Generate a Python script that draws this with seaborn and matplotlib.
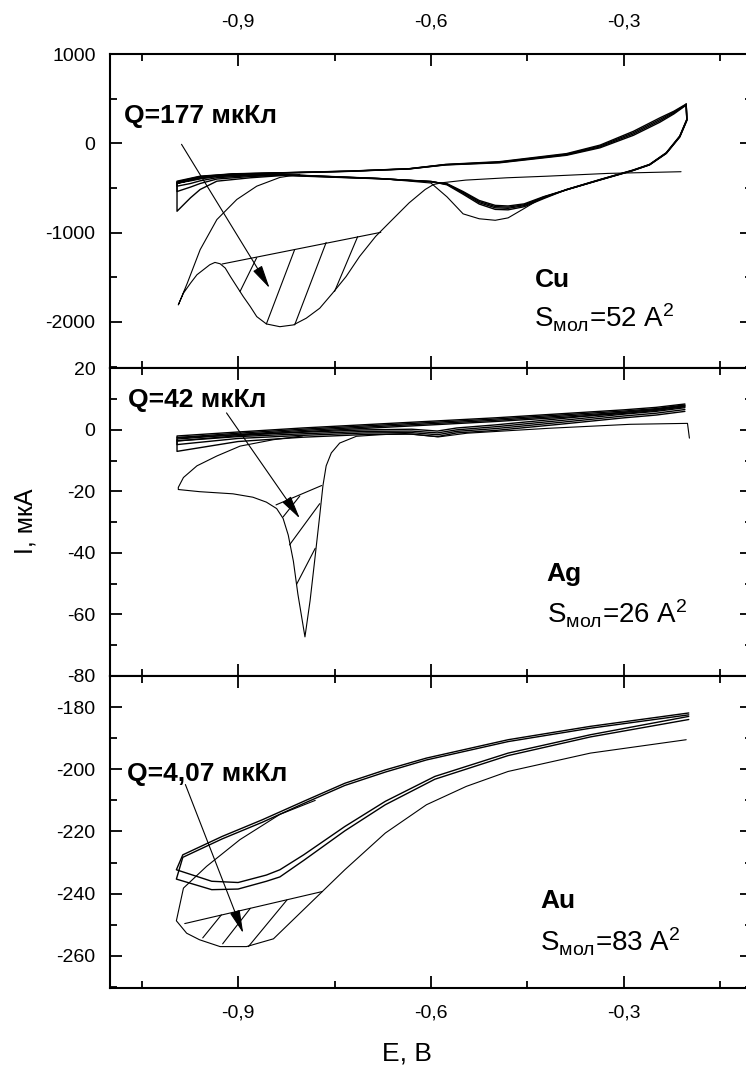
import matplotlib
matplotlib.use('Agg')
import matplotlib.pyplot as plt
import seaborn as sns

# ---------------- data ----------------
# x axis
x_major = [-0.9, -0.6, -0.3]
x_minor = [-1.05, -0.75, -0.45, -0.15]
x_labels = ['-0,9', '-0,6', '-0,3']

# Cu panel: stabilised cycles, anodic (up) and cathodic (down) branches
cu_E_up = [-0.995, -0.959, -0.907, -0.830, -0.727, -0.634, -0.577, -0.493, -0.389, -0.337, -0.285, -0.244, -0.222, -0.203]
cu_I_up = [
    [-424, -368, -341, -329, -311, -284, -236, -205, -115, -20, 135, 285, 360, 440],
    [-432, -372, -343, -330, -312, -285, -238, -210, -122, -30, 120, 268, 350, 436],
    [-440, -376, -345, -331, -313, -286, -240, -214, -128, -40, 105, 252, 340, 432],
    [-452, -382, -348, -333, -314, -287, -242, -218, -134, -50, 90, 236, 330, 428],
]
cu_E_dn = [-0.203, -0.202, -0.213, -0.234, -0.260, -0.286, -0.337, -0.389, -0.425, -0.455, -0.480, -0.500,
           -0.525, -0.550, -0.575, -0.600, -0.680, -0.727, -0.830, -0.881, -0.933, -0.959, -0.974, -0.995]
cu_I_dn = [
    [440, 270, 82, -105, -236, -300, -405, -517, -620, -710, -745, -740, -680, -570, -465, -426, -397, -386, -360, -386, -424, -517, -610, -761],
    [436, 265, 78, -108, -238, -302, -407, -518, -612, -698, -728, -722, -665, -558, -460, -428, -396, -384, -356, -372, -400, -450, -490, -540],
    [432, 260, 74, -111, -240, -304, -409, -519, -605, -688, -715, -708, -652, -548, -456, -430, -395, -382, -352, -362, -385, -420, -450, -480],
    [428, 255, 70, -114, -242, -306, -411, -520, -598, -678, -702, -695, -640, -540, -452, -432, -394, -380, -350, -355, -372, -398, -420, -445],
    [430, 262, 76, -110, -240, -304, -409, -522, -600, -730, -835, -862, -845, -790, -600, -445, -394, -380, -350, -352, -370, -395, -415, -440],
]
# Cu first scan (thin): flat part, reduction valley, return
cu_E_first = [-0.211, -0.325, -0.419, -0.482, -0.546, -0.583, -0.596, -0.609, -0.634, -0.660, -0.686, -0.711,
              -0.732, -0.753, -0.773, -0.794, -0.814, -0.835, -0.856, -0.871, -0.881, -0.892, -0.902, -0.912,
              -0.920, -0.928, -0.936, -0.944, -0.954, -0.964, -0.974, -0.985, -0.993, -0.979, -0.959, -0.933,
              -0.902, -0.871, -0.835, -0.804]
cu_I_first = [-318, -337, -368, -386, -412, -442, -461, -517, -667, -854, -1042, -1267,
              -1492, -1678, -1847, -1959, -2034, -2054, -2023, -1941, -1829, -1716, -1604, -1492,
              -1397, -1349, -1334, -1360, -1416, -1472, -1566, -1678, -1810, -1566, -1191, -854,
              -629, -480, -382, -348]
cu_base_E = [-0.925, -0.678]
cu_base_I = [-1352, -997]
cu_hatch_E = [[-0.897, -0.871], [-0.856, -0.812], [-0.812, -0.763], [-0.750, -0.714]]
cu_hatch_I = [[-1660, -1280], [-2023, -1190], [-2034, -1110], [-1660, -1045]]
cu_arrow = [(-0.988, -11), (-0.851, -1622)]

# Ag panel
ag_E_up = [-0.995, -0.90, -0.80, -0.70, -0.60, -0.50, -0.40, -0.30, -0.25, -0.205]
ag_I_up = [
    [-2.0, -0.7, 0.6, 1.7, 2.8, 3.9, 5.2, 6.5, 7.3, 8.4],
    [-2.5, -1.1, 0.2, 1.3, 2.4, 3.5, 4.8, 6.1, 6.9, 8.1],
    [-3.0, -1.5, -0.2, 0.9, 2.0, 3.1, 4.4, 5.7, 6.6, 7.8],
    [-3.6, -1.9, -0.6, 0.5, 1.6, 2.7, 4.0, 5.3, 6.3, 7.5],
]
ag_E_dn = [-0.205, -0.25, -0.30, -0.40, -0.50, -0.56, -0.59, -0.63, -0.70, -0.80, -0.90, -0.995]
ag_I_dn = [
    [7.8, 6.6, 5.7, 3.6, 1.6, 0.6, -0.4, 0.2, 0.0, -0.8, -1.6, -2.6],
    [7.2, 6.0, 5.1, 3.0, 1.0, 0.0, -1.0, -0.4, -0.5, -1.3, -2.2, -3.6],
    [6.6, 5.4, 4.5, 2.4, 0.4, -0.5, -1.6, -0.9, -1.0, -1.8, -2.8, -4.8],
    [6.0, 4.8, 3.9, 1.8, -0.2, -1.0, -2.2, -1.4, -1.5, -2.4, -3.8, -7.0],
]
ag_E_first = [-0.198, -0.201, -0.290, -0.417, -0.544, -0.588, -0.640, -0.680, -0.716, -0.742, -0.755, -0.763,
              -0.768, -0.773, -0.781, -0.788, -0.796, -0.807, -0.814, -0.822, -0.830, -0.840, -0.856, -0.877,
              -0.908, -0.960, -0.993, -0.993, -0.985, -0.964, -0.933, -0.897, -0.845, -0.800]
ag_I_first = [-2.7, 2.1, 1.8, 0.5, -1.1, -2.3, -1.2, -1.6, -2.1, -4.3, -7.5, -11.7,
              -18.1, -27.8, -42.7, -55.5, -67.3, -53.4, -42.7, -34.2, -28.8, -25.6, -23.5, -21.9,
              -20.8, -20.1, -19.4, -18.7, -15.5, -11.7, -8.5, -5.3, -3.2, -2.0]
ag_base_E = [-0.841, -0.770]
ag_base_I = [-24.4, -18.1]
ag_hatch_E = [[-0.830, -0.804], [-0.820, -0.773], [-0.809, -0.780]]
ag_hatch_I = [[-28.3, -21.5], [-37.4, -24.0], [-50.2, -38.5]]
ag_arrow = [(-0.918, 5.5), (-0.804, -28.8)]

# Au panel
au_E_up = [-0.986, -0.925, -0.862, -0.798, -0.734, -0.671, -0.607, -0.480, -0.352, -0.199]
au_I_up = [
    [-227.5, -221.6, -216.2, -210.3, -204.5, -200.2, -196.4, -190.5, -186.2, -181.9],
    [-228.3, -222.4, -217.0, -211.0, -205.2, -200.9, -197.0, -191.1, -186.8, -182.5],
]
au_E_dn = [-0.199, -0.352, -0.480, -0.594, -0.671, -0.734, -0.798, -0.835, -0.856, -0.900, -0.941, -0.996]
au_I_dn = [
    [-183.0, -188.9, -194.8, -202.3, -210.3, -218.4, -227.5, -232.3, -234.0, -236.4, -236.0, -232.3],
    [-184.0, -189.6, -195.6, -203.2, -211.4, -219.8, -229.3, -234.6, -236.0, -238.5, -238.7, -235.3],
]
au_E_first = [-0.203, -0.352, -0.480, -0.545, -0.607, -0.671, -0.734, -0.769, -0.810, -0.845,
              -0.887, -0.928, -0.960, -0.980, -0.996, -0.985, -0.949, -0.897, -0.835, -0.780]
au_I_first = [-190.5, -194.8, -200.7, -205.5, -211.4, -220.5, -232.3, -239.3, -247.5, -254.5,
              -257.0, -257.0, -254.8, -252.7, -248.7, -238.2, -231.2, -222.6, -214.5, -210.0]
au_base_E = [-0.983, -0.769]
au_base_I = [-249.6, -239.3]
au_hatch_E = [[-0.955, -0.926], [-0.924, -0.881], [-0.884, -0.824]]
au_hatch_I = [[-254.2, -246.8], [-256.1, -244.7], [-257.0, -242.0]]
au_arrow = [(-0.982, -204.9), (-0.892, -252.7)]

# ---------------- style ----------------
sns.set_theme(style='ticks')
plt.rcParams['font.family'] = ['Liberation Sans', 'DejaVu Sans']
plt.rcParams['text.color'] = 'black'
plt.rcParams['axes.labelcolor'] = 'black'
plt.rcParams['axes.unicode_minus'] = False
plt.rcParams['mathtext.fontset'] = 'custom'
plt.rcParams['mathtext.rm'] = 'Liberation Sans'
plt.rcParams['mathtext.default'] = 'rm'

fig = plt.figure(figsize=(7.46, 10.66), dpi=100)
left, width = 0.1468, 0.8618
ax_cu = fig.add_axes([left, 0.6545, width, 0.2948])
ax_ag = fig.add_axes([left, 0.3659, width, 0.2886])
ax_au = fig.add_axes([left, 0.0729, width, 0.2930])


def draw_curve(ax, e, i, lw=1.0):
    sns.lineplot(x=e, y=i, ax=ax, color='black', lw=lw, sort=False,
                 estimator=None, legend=False)


def draw_cycles(ax, e_up, i_up, e_dn, i_dn, lw=1.0):
    for k, i_d in enumerate(i_dn):
        if k < len(i_up):
            draw_curve(ax, e_dn + e_up, i_d + i_up[k], lw)
        else:
            draw_curve(ax, e_dn, i_d, 0.8)


def draw_hatch(ax, base_e, base_i, hatch_e, hatch_i):
    ax.plot(base_e, base_i, color='black', lw=0.8)
    for he, hi in zip(hatch_e, hatch_i):
        ax.plot(he, hi, color='black', lw=0.8)


def draw_arrow(ax, arrow):
    ax.annotate('', xy=arrow[1], xytext=arrow[0],
                arrowprops=dict(arrowstyle='-|>,head_length=0.9,head_width=0.2',
                                color='black', lw=0.8, shrinkA=0, shrinkB=0,
                                mutation_scale=16))


def style_panel(ax, ylim, major, minor, top_labels=False, bottom_labels=False, xpad=12):
    ax.set_xlim(-1.10, -0.10)
    ax.set_ylim(*ylim)
    ax.set_xticks(x_major)
    ax.set_xticklabels(x_labels)
    ax.set_xticks(x_minor, minor=True)
    ax.set_yticks(major)
    ax.set_yticklabels([str(v) for v in major])
    ax.set_yticks(minor, minor=True)
    ax.tick_params(which='both', direction='in', top=True, right=True,
                   width=1.3, labelsize=14, color='black', labelcolor='black')
    ax.tick_params(which='major', length=8.5)
    ax.tick_params(which='minor', length=5)
    ax.tick_params(axis='x', labelbottom=bottom_labels, labeltop=top_labels, pad=xpad)
    ax.tick_params(axis='y', pad=10)
    for s in ax.spines.values():
        s.set_visible(True)
        s.set_linewidth(1.5)
        s.set_color('black')
    ax.set_xlabel('')
    ax.set_ylabel('')


def label_panel(ax, q_pos, q_text, el_pos, el_text, s_pos, s_text):
    ax.text(q_pos[0], q_pos[1], q_text, fontsize=19, fontweight='bold',
            va='baseline', ha='left', color='black')
    ax.text(el_pos[0], el_pos[1], el_text, fontsize=19, fontweight='bold',
            va='baseline', ha='left', color='black')
    ax.text(s_pos[0], s_pos[1], s_text, fontsize=20, va='baseline', ha='left', color='black')


# ---- Cu ----
draw_cycles(ax_cu, cu_E_up, cu_I_up, cu_E_dn, cu_I_dn)
draw_curve(ax_cu, cu_E_first, cu_I_first, 0.8)
draw_hatch(ax_cu, cu_base_E, cu_base_I, cu_hatch_E, cu_hatch_I)
draw_arrow(ax_cu, cu_arrow)
style_panel(ax_cu, (-2520, 1000), [1000, 0, -1000, -2000], [500, -500, -1500, -2500],
            top_labels=True, xpad=17)
label_panel(ax_cu, (-1.077, 233), 'Q=177 мкКл', (-0.439, -1604), 'Cu',
            (-0.439, -2060), r'S$_{мол}$=52 A$^{2}$')

# ---- Ag ----
draw_cycles(ax_ag, ag_E_up, ag_I_up, ag_E_dn, ag_I_dn)
draw_curve(ax_ag, ag_E_first, ag_I_first, 0.8)
draw_hatch(ax_ag, ag_base_E, ag_base_I, ag_hatch_E, ag_hatch_I)
draw_arrow(ax_ag, ag_arrow)
style_panel(ax_ag, (-80, 20), [20, 0, -20, -40, -60, -80], [10, -10, -30, -50, -70])
label_panel(ax_ag, (-1.071, 7.5), 'Q=42 мкКл', (-0.420, -49.1), 'Ag',
            (-0.420, -63.0), r'S$_{мол}$=26 A$^{2}$')

# ---- Au ----
draw_cycles(ax_au, au_E_up, au_I_up, au_E_dn, au_I_dn)
draw_curve(ax_au, au_E_first, au_I_first, 0.8)
draw_hatch(ax_au, au_base_E, au_base_I, au_hatch_E, au_hatch_I)
draw_arrow(ax_au, au_arrow)
style_panel(ax_au, (-270.4, -170), [-180, -200, -220, -240, -260], [-190, -210, -230, -250, -270],
            bottom_labels=True, xpad=12)
label_panel(ax_au, (-1.073, -203.8), 'Q=4,07 мкКл', (-0.430, -244.6), 'Au',
            (-0.430, -258.6), r'S$_{мол}$=83 A$^{2}$')

fig.text(25 / 746, 1 - 521 / 1066, 'I, мкА', rotation=90, ha='center', va='center', fontsize=18)
fig.text(407 / 746, 1 - 1053 / 1066, 'E, B', ha='center', va='center', fontsize=19)

fig.savefig('out.png', dpi=100)
